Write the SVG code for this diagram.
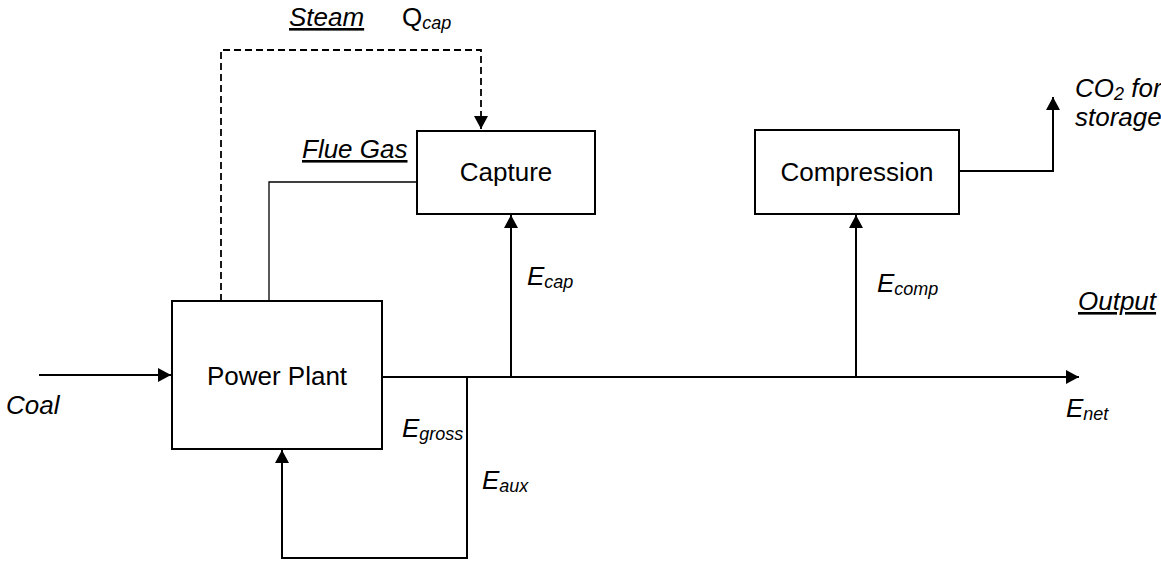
<svg xmlns="http://www.w3.org/2000/svg" width="1161" height="563" viewBox="0 0 1161 563">
<defs>
<style>
.box{fill:#fff;stroke:#000;stroke-width:2}
.lbl{font-family:"Liberation Sans",Arial,sans-serif;font-size:26px;fill:#000}
.it{font-style:italic}
.sub{font-size:18px}
.ln{fill:none;stroke:#000;stroke-width:2}
.thin{fill:none;stroke:#000;stroke-width:1.3}
.dash{fill:none;stroke:#000;stroke-width:1.8;stroke-dasharray:7 4}
</style>
<marker id="ah" markerUnits="userSpaceOnUse" markerWidth="14" markerHeight="14" refX="13" refY="7" orient="auto">
<path d="M0,0 L13,7 L0,14 z" fill="#000"/>
</marker>
</defs>
<rect width="1161" height="563" fill="#fff"/>
<g id="connectors">
<path class="dash" d="M221,301 V50 H481 V129" marker-end="url(#ah)"/>
<path class="thin" d="M269,301 V182 H417"/>
<path class="ln" d="M39,375 H171" marker-end="url(#ah)"/>
<path class="ln" d="M382,377 H1079" marker-end="url(#ah)"/>
<path class="ln" d="M511,377 V215" marker-end="url(#ah)"/>
<path class="ln" d="M856,377 V215" marker-end="url(#ah)"/>
<path class="ln" d="M959,171 H1053 V97" marker-end="url(#ah)"/>
<path class="ln" d="M467,377 V558 H282 V450" marker-end="url(#ah)"/>
</g>
<g id="power-plant">
<rect class="box" x="172" y="301" width="210" height="148"/>
<text class="lbl" x="277" y="385" text-anchor="middle">Power Plant</text>
</g>
<g id="capture">
<rect class="box" x="417" y="131" width="178" height="83"/>
<text class="lbl" x="506" y="181" text-anchor="middle">Capture</text>
</g>
<g id="compression">
<rect class="box" x="755" y="130" width="204" height="84"/>
<text class="lbl" x="857" y="181" text-anchor="middle">Compression</text>
</g>
<g id="labels">
<text class="lbl it" x="289" y="26" text-decoration="underline">Steam</text>
<text class="lbl" x="402" y="26">Q<tspan class="sub it" dy="3">cap</tspan></text>
<text class="lbl it" x="302" y="158" text-decoration="underline">Flue Gas</text>
<text class="lbl it" x="1075" y="97">CO<tspan class="sub" dy="3">2</tspan><tspan dy="-3"> for</tspan></text>
<text class="lbl it" x="1075" y="126">storage</text>
<text class="lbl it" x="527" y="285">E<tspan class="sub" dy="3">cap</tspan></text>
<text class="lbl it" x="877" y="292">E<tspan class="sub" dy="3">comp</tspan></text>
<text class="lbl it" x="1078" y="310" text-decoration="underline">Output</text>
<text class="lbl it" x="1066" y="417">E<tspan class="sub" dy="3">net</tspan></text>
<text class="lbl it" x="6" y="414">Coal</text>
<text class="lbl it" x="402" y="437">E<tspan class="sub" dy="3">gross</tspan></text>
<text class="lbl it" x="482" y="489">E<tspan class="sub" dy="3">aux</tspan></text>
</g>
</svg>
